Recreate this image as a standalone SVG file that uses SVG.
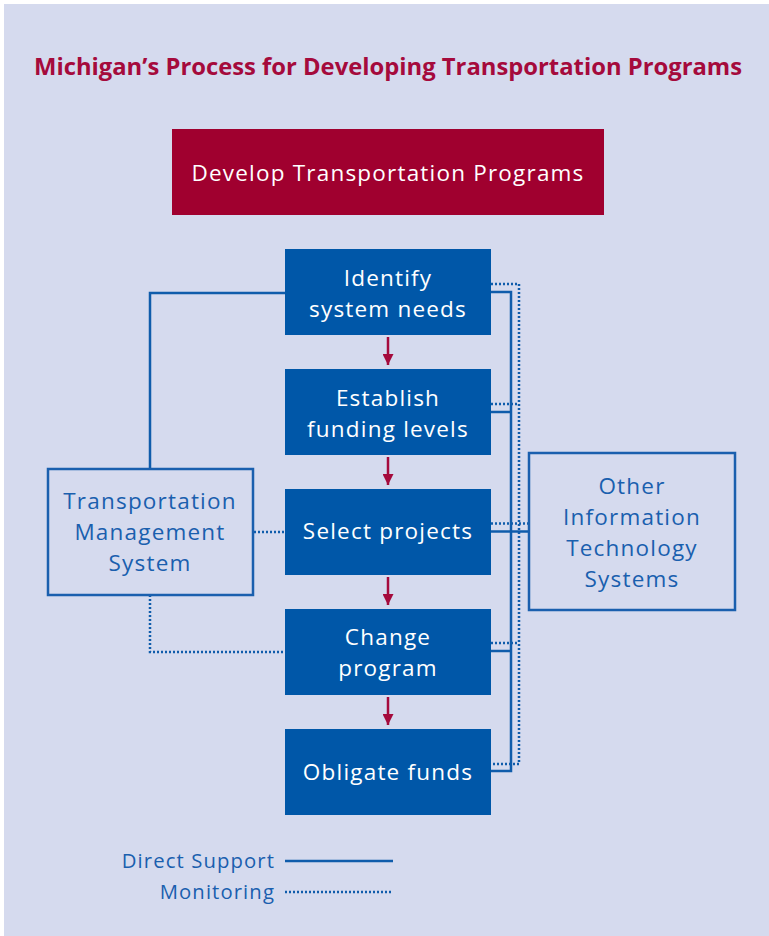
<svg xmlns="http://www.w3.org/2000/svg" width="769" height="936" viewBox="0 0 769 936">
  <defs>
    <style>
      .title { font-family: "Open Sans", "Liberation Sans", sans-serif; font-weight: bold; font-size: 23.8px; fill: #a50a3c; }
      .wt { font-family: "Open Sans", "Liberation Sans", sans-serif; font-size: 22.5px; letter-spacing: 1.2px; fill: #ffffff; text-anchor: middle; }
      .bt { font-family: "Open Sans", "Liberation Sans", sans-serif; font-size: 22.5px; letter-spacing: 1.2px; fill: #1a5fae; text-anchor: middle; }
      .lg { font-family: "Open Sans", "Liberation Sans", sans-serif; font-size: 20.3px; letter-spacing: 1.1px; fill: #1a5fae; text-anchor: end; }
      .step { fill: #0057a8; }
      .side { fill: none; stroke: #1a5fae; stroke-width: 2.5; }
      .solid { fill: none; stroke: #0f5cab; stroke-width: 2.5; }
      .dot { fill: none; stroke: #0f5cab; stroke-width: 2.5; stroke-dasharray: 2 2; }
      .arrow { stroke: #a50a3c; stroke-width: 2.5; }
    </style>
    <marker id="ah" viewBox="0 0 10 10" refX="10" refY="5" markerWidth="4.4" markerHeight="4.4" orient="auto" markerUnits="strokeWidth">
      <path d="M0,0 L10,5 L0,10 z" fill="#a50a3c"/>
    </marker>
  </defs>

  <!-- page -->
  <rect x="0" y="0" width="769" height="936" fill="#ffffff"/>
  <rect x="4" y="4" width="765" height="932" fill="#d5daee"/>

  <text class="title" x="388" y="74.5" text-anchor="middle">Michigan’s Process for Developing Transportation Programs</text>

  <!-- connectors -->
  <g id="connectors">
    <!-- step arrows -->
    <line class="arrow" x1="388" y1="337" x2="388" y2="365" marker-end="url(#ah)"/>
    <line class="arrow" x1="388" y1="457" x2="388" y2="485" marker-end="url(#ah)"/>
    <line class="arrow" x1="388" y1="577" x2="388" y2="605" marker-end="url(#ah)"/>
    <line class="arrow" x1="388" y1="697" x2="388" y2="725" marker-end="url(#ah)"/>

    <!-- management system links -->
    <polyline class="solid" points="150,469 150,293 285,293"/>
    <line class="dot" x1="254" y1="532" x2="285" y2="532"/>
    <polyline class="dot" points="150,595 150,652 285,652"/>

    <!-- direct support bus -->
    <polyline class="solid" points="491,292 511,292 511,771 491,771"/>
    <line class="solid" x1="491" y1="412" x2="511" y2="412"/>
    <line class="solid" x1="491" y1="531.5" x2="529" y2="531.5"/>
    <line class="solid" x1="491" y1="651" x2="511" y2="651"/>

    <!-- monitoring bus -->
    <polyline class="dot" points="491,284 519,284 519,764 491,764"/>
    <line class="dot" x1="491" y1="404" x2="519" y2="404"/>
    <line class="dot" x1="491" y1="523.5" x2="529" y2="523.5"/>
    <line class="dot" x1="491" y1="643" x2="519" y2="643"/>
  </g>

  <g id="develop">
    <rect x="172" y="129" width="432" height="86" fill="#a0002f"/>
    <text class="wt" x="388" y="181">Develop Transportation Programs</text>
  </g>

  <g id="identify">
    <rect class="step" x="285" y="249" width="206" height="86"/>
    <text class="wt" x="388" y="286">Identify</text>
    <text class="wt" x="388" y="317">system needs</text>
  </g>

  <g id="establish">
    <rect class="step" x="285" y="369" width="206" height="86"/>
    <text class="wt" x="388" y="406">Establish</text>
    <text class="wt" x="388" y="437">funding levels</text>
  </g>

  <g id="select">
    <rect class="step" x="285" y="489" width="206" height="86"/>
    <text class="wt" x="388" y="539">Select projects</text>
  </g>

  <g id="change">
    <rect class="step" x="285" y="609" width="206" height="86"/>
    <text class="wt" x="388" y="645">Change</text>
    <text class="wt" x="388" y="676">program</text>
  </g>

  <g id="obligate">
    <rect class="step" x="285" y="729" width="206" height="86"/>
    <text class="wt" x="388" y="780">Obligate funds</text>
  </g>

  <g id="tms">
    <rect class="side" x="48" y="469" width="205" height="126"/>
    <text class="bt" x="150" y="509">Transportation</text>
    <text class="bt" x="150" y="540">Management</text>
    <text class="bt" x="150" y="571">System</text>
  </g>

  <g id="other-it">
    <rect class="side" x="529" y="453" width="206" height="157"/>
    <text class="bt" x="632" y="494">Other</text>
    <text class="bt" x="632" y="525">Information</text>
    <text class="bt" x="632" y="556">Technology</text>
    <text class="bt" x="632" y="587">Systems</text>
  </g>

  <g id="legend">
    <text class="lg" x="275" y="868">Direct Support</text>
    <line class="solid" x1="285" y1="861" x2="393" y2="861"/>
    <text class="lg" x="275" y="899">Monitoring</text>
    <line class="dot" x1="285" y1="892" x2="393" y2="892"/>
  </g>
</svg>
